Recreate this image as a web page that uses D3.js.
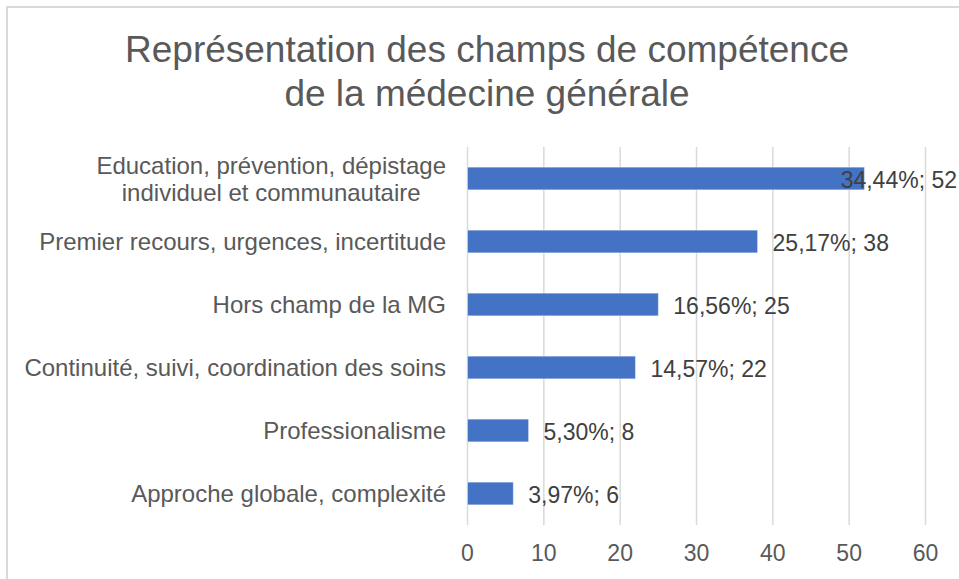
<!DOCTYPE html>
<html>
<head>
<meta charset="utf-8">
<script src="https://cdn.jsdelivr.net/npm/d3@7"></script>
<style>
  body { margin: 0; background: #fff; }
  svg text { font-family: "Liberation Sans", Arial, sans-serif; }
</style>
</head>
<body>
<svg id="chart" width="959" height="579"></svg>
<script>
// data
var categories = ["Education, prévention, dépistage|individuel et communautaire",
                  "Premier recours, urgences, incertitude",
                  "Hors champ de la MG",
                  "Continuité, suivi, coordination des soins",
                  "Professionalisme",
                  "Approche globale, complexité"];
var counts = [52, 38, 25, 22, 8, 6];
var percents = ["34,44%", "25,17%", "16,56%", "14,57%", "5,30%", "3,97%"];
var ticks = [0, 10, 20, 30, 40, 50, 60];
var titleLines = ["Représentation des champs de compétence", "de la médecine générale"];

var svg = d3.select("#chart");

// chart frame
svg.append("rect")
	.attr("x", 7).attr("y", 7)
	.attr("width", 1000).attr("height", 1000)
	.attr("fill", "none")
	.attr("stroke", "#d9d9d9")
	.attr("stroke-width", 2);

// title
svg.selectAll(".title")
		.data(titleLines)
	.enter().append("text")
		.attr("class", "title")
		.attr("x", 487)
		.attr("y", function(d, i) { return 62 + i * 44; })
		.attr("text-anchor", "middle")
		.style("font-size", "37px")
		.attr("fill", "#595959")
		.text(function(d) { return d; });

var x = d3.scaleLinear().domain([0, 60]).range([467.5, 925.5]);
var y = d3.scaleBand().domain(categories).range([147, 525])
		.paddingInner(0.64).paddingOuter(0.32);

// gridlines
svg.selectAll(".grid")
		.data(ticks)
	.enter().append("line")
		.attr("x1", function(d) { return x(d); })
		.attr("x2", function(d) { return x(d); })
		.attr("y1", 147)
		.attr("y2", 525)
		.attr("stroke", "#d9d9d9")
		.attr("stroke-width", 1.5);

// tick labels
svg.selectAll(".tick")
		.data(ticks)
	.enter().append("text")
		.attr("x", function(d) { return x(d); })
		.attr("y", 561)
		.attr("text-anchor", "middle")
		.style("font-size", "23px")
		.attr("fill", "#595959")
		.text(function(d) { return d; });

// bars
svg.selectAll(".bar")
		.data(categories)
	.enter().append("rect")
		.attr("x", x(0))
		.attr("y", function(d) { return y(d); })
		.attr("width", function(d, i) { return x(counts[i]) - x(0); })
		.attr("height", y.bandwidth())
		.attr("fill", "#4472c4")
		.attr("stroke", "#ffffff")
		.attr("stroke-opacity", 0.4)
		.attr("stroke-width", 1);

// category labels
categories.forEach(function(c) {
	var lines = c.split("|");
	var cy = y(c) + y.bandwidth() / 2;
	var t = svg.append("text")
		.attr("text-anchor", "middle")
		.style("font-size", "24px")
		.attr("fill", "#595959");
	lines.forEach(function(l, j) {
		t.append("tspan")
			.attr("x", 0)
			.attr("y", cy + 8.5 + (j - (lines.length - 1) / 2) * 27)
			.text(l);
	});
	// right align block at x=446
	var w = t.node().getBBox().width;
	t.selectAll("tspan").attr("x", 446 - w / 2);
});

// data labels
svg.selectAll(".dlabel")
		.data(categories)
	.enter().append("text")
		.attr("y", function(d) { return y(d) + y.bandwidth() / 2 + 9; })
		.style("font-size", "23px")
		.attr("fill", "#404040")
		.text(function(d, i) { return percents[i] + "; " + counts[i]; })
		.attr("x", function(d, i) {
			var px = x(counts[i]) + 15;
			var w = this.getComputedTextLength();
			if (px + w > 957) px = 957 - w;
			return px;
		});
</script>
</body>
</html>
